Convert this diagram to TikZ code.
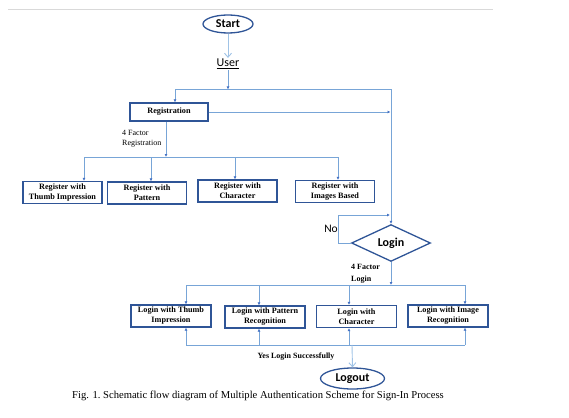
\documentclass[tikz,border=0pt]{standalone}
\usepackage{fontspec}
\setmainfont{Liberation Serif}
\newfontfamily\calibri{Carlito}
\usetikzlibrary{arrows.meta,shapes.geometric}
\definecolor{boxblue}{RGB}{47,85,151}
\definecolor{lineblue}{RGB}{120,165,215}
\definecolor{paleblue}{RGB}{160,195,230}
\definecolor{tipblue}{RGB}{68,114,196}

\begin{document}
\begin{tikzpicture}[x=1pt,y=-1pt,
  term/.style={ellipse,draw=boxblue,line width=1.3pt,inner sep=0pt,font=\calibri\bfseries\fontsize{12}{12}\selectfont},
  regbox/.style={draw=boxblue,line width=1.2pt,minimum width=79pt,minimum height=22pt,inner sep=0pt,align=center,font=\bfseries\fontsize{8.2}{10}\selectfont},
  line/.style={lineblue,line width=0.8pt},
  flow/.style={line,-{Latex[length=3pt,width=3pt,color=tipblue]}},
  openflow/.style={paleblue,line width=0.9pt,-{Straight Barb[length=4pt,width=7pt]}},
  lbl/.style={inner sep=0pt,align=left,font=\fontsize{8}{10}\selectfont}
]
\useasboundingbox (0,0) rectangle (569,417);
% Rule at the top
\draw[black!15,line width=0.8pt] (8,9.5) -- (493,9.5);

% Start and user
\node[term,minimum width=50pt,minimum height=18pt] (start) at (228,24) {Start};
\node[inner sep=1pt,font=\calibri\fontsize{12}{12}\selectfont] (user) at (228,64) {\underline{User}};
\draw[openflow] (start) -- (user);
\coordinate (split) at (228,89.5);

% Registration
\node[regbox,minimum width=78pt,minimum height=18pt] (reg) at (169,112) {Registration};
\draw[flow] (user) -- (split);
\draw[flow] (split) -| ([xshift=6pt]reg.north);

% Login decision
\node[diamond,draw=boxblue,line width=1.3pt,minimum width=79pt,minimum height=30pt,inner sep=0pt,
  font=\calibri\bfseries\fontsize{12}{12}\selectfont] (login) at (391,243) {Login};
\draw[flow] (split) -| (login.north);
\draw[flow] (reg.east) -- ([xshift=-0.5pt]reg.east -| login.north);

% 4 factor registration
\coordinate (regsplit) at (166,157);
\draw[flow] (reg.south -| regsplit) -- (regsplit);
\node[lbl,anchor=west] (regtxt) at (122,139) {4 Factor\\Registration};

\node[regbox] (r1) at (62.5,192.5) {Register with\\Thumb Impression};
\node[regbox] (r2) at (147,193) {Register with\\Pattern};
\node[regbox] (r3) at (237.5,191) {Register with\\Character};
\node[regbox] (r4) at (335,191.5) {Register with\\Images Based};

\coordinate (d1) at (84,157);
\coordinate (d2) at (151,157);
\coordinate (d3) at (235,157);
\coordinate (d4) at (338,157);
\draw[line] (d1) -- (d4);
\foreach \i in {1,2,3,4}
  \draw[flow] (d\i) -- (d\i |- r\i.north);

% No loop
\coordinate (noend) at (390,215);
\draw[flow] (login.west) -- ++(-12,0) |- (noend);
\node[font=\calibri\fontsize{11.5}{12}\selectfont,inner sep=0pt] (no) at (331,229) {No};

% 4 factor login
\coordinate (logsplit) at (391,285);
\draw[flow] (login.south) -- (logsplit);
\node[lbl,anchor=west,font=\bfseries\fontsize{8}{12}\selectfont] (logtxt) at (351,274) {4 Factor\\Login};

\node[regbox,minimum width=80pt] (l1) at (171,316) {Login with Thumb\\Impression};
\node[regbox,minimum width=80pt] (l2) at (265,317) {Login with Pattern\\Recognition};
\node[regbox,minimum width=80pt] (l3) at (356.5,316.5) {Login with\\Character};
\node[regbox,minimum width=80pt] (l4) at (448,316) {Login with Image\\Recognition};

\coordinate (e1) at (186,285);
\coordinate (e2) at (259,285);
\coordinate (e3) at (349,285);
\coordinate (e4) at (465,285);
\draw[line] (e1) -- (e4);
\foreach \i in {1,2,3,4}
  \draw[flow] (e\i) -- (e\i |- l\i.north);

% Successful login
\coordinate (b1) at (186,345);
\coordinate (b2) at (259,345);
\coordinate (b3) at (349,345);
\coordinate (b4) at (465,345);
\draw[line] (b1) -- (b4);
\foreach \i in {1,2,3,4}
  \draw[flow] (b\i) -- (b\i |- l\i.south);
\node[lbl,font=\bfseries\fontsize{8}{10}\selectfont] (yes) at (296,356.5) {Yes Login Successfully};

\node[term,minimum width=64pt,minimum height=21pt] (logout) at (352.5,378.5) {Logout};
\coordinate (ysplit) at (352,345);
\draw[openflow] (ysplit) -- (logout.north);

% Caption
\node[inner sep=0pt,font=\fontsize{10.6}{12}\selectfont] (caption) at (258,395.5)
  {Fig. 1.\ Schematic flow diagram of Multiple Authentication Scheme for Sign-In Process};
\end{tikzpicture}
\end{document}
